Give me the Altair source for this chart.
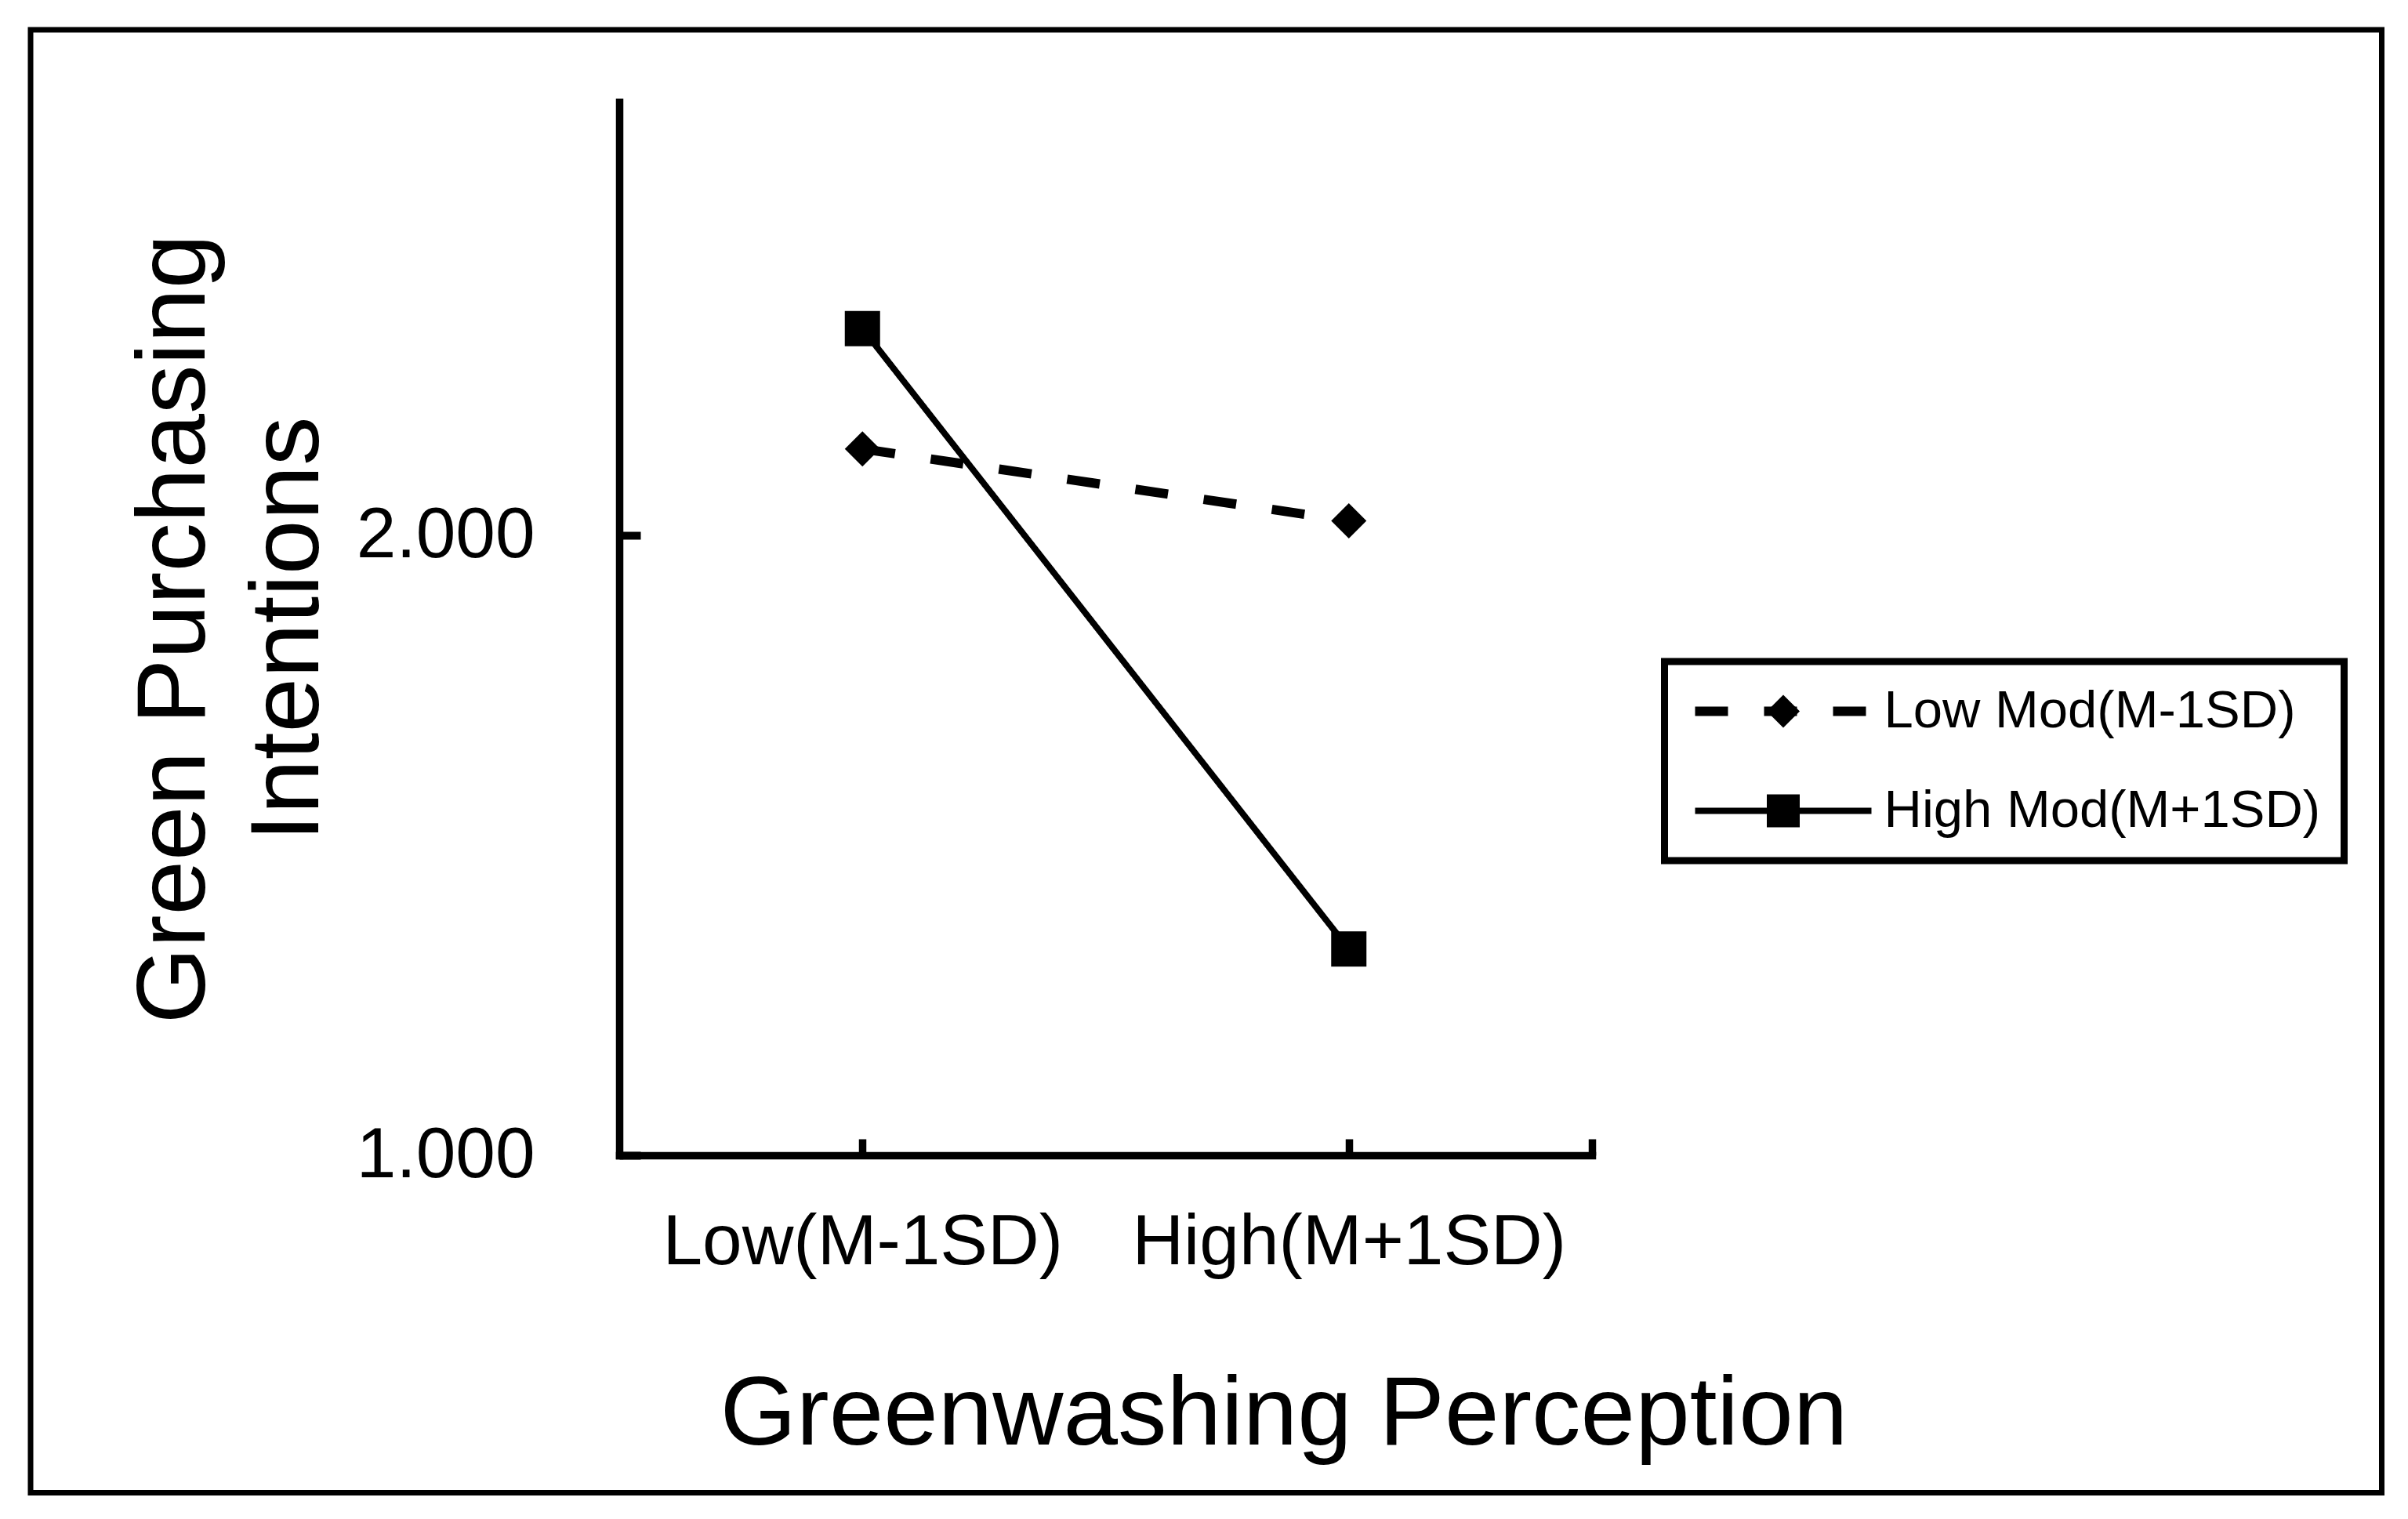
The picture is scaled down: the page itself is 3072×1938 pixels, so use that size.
import altair as alt
import pandas as pd

# ---- data ----
categories = ["Low(M-1SD)", "High(M+1SD)"]
series_names = ["Low Mod(M-1SD)", "High Mod(M+1SD)"]
low_mod_values = [2.140, 2.024]
high_mod_values = [2.334, 1.333]
y_tick_values = [1.0, 2.0]
y_domain = [1.0, 2.7]
x_title = "Greenwashing Perception"
y_title = ["Green Purchasing", "Intentions"]

rows = []
for s, vals in zip(series_names, [low_mod_values, high_mod_values]):
    for i, (c, v) in enumerate(zip(categories, vals)):
        rows.append({"series": s, "series_b": s, "category": c,
                     "xpos": i + 0.5, "value": v})
df = pd.DataFrame(rows)

W, H = 1241, 1344
FONT = "Liberation Sans"

cat_positions = [i + 0.5 for i in range(len(categories))]
label_expr = "''"
for pos, c in reversed(list(zip(cat_positions, categories))):
    label_expr = f"datum.value == {pos} ? '{c}' : {label_expr}"

x_scale = alt.Scale(domain=[0, len(categories)], nice=False, zero=False)
y_scale = alt.Scale(domain=y_domain, nice=False, zero=False)

x_axis_main = alt.Axis(
    orient="bottom", values=cat_positions, labelExpr=label_expr,
    ticks=False, tickSize=0, domain=True, domainColor="black",
    domainWidth=9.5, domainCap="square", grid=False,
    labelFont=FONT, labelFontSize=91, labelColor="black", labelPadding=66,
    labelAngle=0, labelOverlap=False, labelFlush=False, labelBound=False,
    labelLimit=2000,
    title=x_title, titleFont=FONT, titleFontSize=125, titleFontWeight="normal",
    titleColor="black", titleX=847.5, titleY=368.5,
    titleBaseline="alphabetic", titleAlign="center",
)
x_axis_ticks = alt.Axis(
    orient="top", offset=-H, values=cat_positions + [len(categories)],
    labels=False, domain=False, ticks=True, tickSize=21, tickWidth=9.5,
    tickColor="black", grid=False, title=None,
)
y_axis_main = alt.Axis(
    orient="left", values=y_tick_values, format=".3f",
    ticks=False, tickSize=0, domain=True, domainColor="black",
    domainWidth=9.5, domainCap="square", grid=False,
    labelFont=FONT, labelFontSize=91, labelColor="black", labelPadding=108,
    labelLimit=2000,
    title=y_title, titleFont=FONT, titleFontSize=125, titleFontWeight="normal",
    titleColor="black", titleX=-529.5, titleY=H / 2, titleAngle=270,
    titleBaseline="alphabetic", titleAlign="center", titleLineHeight=145,
)
y_axis_ticks = alt.Axis(
    orient="right", offset=-W, values=y_tick_values,
    labels=False, domain=False, ticks=True, tickSize=27, tickWidth=10,
    tickColor="black", grid=False, title=None,
)

LEG_X, LEG_Y, LEG_PAD = 1333.5, 714, 30
legend_lines = alt.Legend(
    title=None, orient="none", legendX=LEG_X, legendY=LEG_Y, padding=LEG_PAD,
    strokeColor="black", symbolType="M-5,0H5", symbolSize=2025,
    symbolStrokeWidth=12, symbolStrokeColor="black", symbolOffset=88,
    labelFont=FONT, labelFontSize=67, labelColor="black", labelOffset=95,
    labelLimit=2000, rowPadding=59,
)
legend_marks = alt.Legend(
    title=None, orient="none", legendX=LEG_X, legendY=LEG_Y, padding=LEG_PAD,
    symbolSize=1764, symbolFillColor="black", symbolStrokeWidth=0,
    symbolOffset=88, labelFont=FONT, labelFontSize=67, labelOpacity=0,
    labelOffset=95, labelLimit=2000, rowPadding=59,
)

frame = alt.Chart(pd.DataFrame({"a": [0]})).mark_rect(
    filled=False, color="black", strokeWidth=7
).encode(
    x=alt.value(-751), x2=alt.value(2248.5),
    y=alt.value(-92), y2=alt.value(1774.5),
)

lines = alt.Chart(df).mark_line(color="black").encode(
    x=alt.X("xpos:Q", scale=x_scale, axis=x_axis_main),
    y=alt.Y("value:Q", scale=y_scale, axis=y_axis_main),
    strokeDash=alt.StrokeDash(
        "series:N",
        scale=alt.Scale(domain=series_names, range=[[42, 46], [1, 0]]),
        legend=legend_lines,
    ),
    strokeWidth=alt.StrokeWidth(
        "series:N",
        scale=alt.Scale(domain=series_names, range=[12, 8]),
        legend=None,
    ),
)

points = alt.Chart(df).mark_point(
    filled=True, color="black", opacity=1, size=2025
).encode(
    x=alt.X("xpos:Q", scale=x_scale, axis=x_axis_ticks),
    y=alt.Y("value:Q", scale=y_scale, axis=y_axis_ticks),
    shape=alt.Shape(
        "series_b:N", sort=series_names,
        scale=alt.Scale(range=["diamond", "square"]),
        legend=legend_marks,
    ),
)

chart = alt.layer(frame, lines, points).properties(
    width=W, height=H,
    padding={"left": 27, "top": 26, "right": 5, "bottom": 5},
    background="white",
).configure_view(stroke=None).configure_legend(strokeWidth=9)

chart.save("out.html", embed_options={"renderer": "svg", "actions": False})
